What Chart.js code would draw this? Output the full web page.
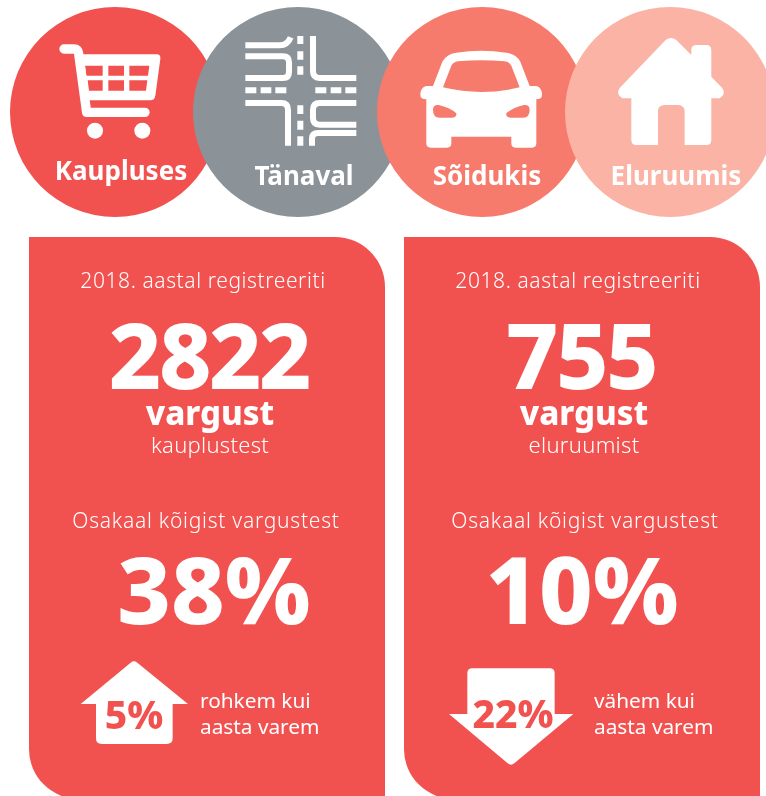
<!DOCTYPE html>
<html>
<head>
<meta charset="utf-8">
<script src="https://cdn.jsdelivr.net/npm/chart.js@4"></script>
<style>
  html, body { margin: 0; padding: 0; background: #fff; }
  #page { position: relative; width: 766px; height: 796px; overflow: hidden; font-family: "Noto Sans", sans-serif; color: #fff; }
  #page canvas { position: absolute; }
  .panel { position: absolute; top: 237px; width: 356px; height: 562px; background: #f2524f; border-radius: 0 50px 0 50px; }
  #icons { position: absolute; left: 0; top: 0; }
  .t { position: absolute; white-space: nowrap; line-height: 1; transform: translate(-50%, -50%); }
  .l { position: absolute; white-space: nowrap; line-height: 1; transform: translateY(-50%); }
</style>
</head>
<body>
<div id="page">
  <div class="panel" style="left:29px"></div>
  <div class="panel" style="left:404px"></div>
</div>
<script>
const categories = ["Kaupluses", "Tänaval", "Sõidukis", "Eluruumis"];
const circleValues = [1, 1, 1, 1];
const circleColors = ["#f2524f", "#8c9398", "#f77b6c", "#fab3a4"];

const panelTitle = "2018. aastal registreeriti";
const shareTitle = "Osakaal kõigist vargustest";
const theftWord = "vargust";
const theftCounts = [2822, 755];
const theftPlaces = ["kauplustest", "eluruumist"];
const sharePercents = [38, 10];
const changePercents = [5, 22];
const changeWords = ["rohkem kui", "vähem kui"];
const changeTail = "aasta varem";

const page = document.getElementById("page");

// the four round headers are one-slice doughnuts, later ones sit on top
const circleLeft = [10, 193, 377, 565];
categories.forEach(function (name, i) {
  const canvas = document.createElement("canvas");
  canvas.width = 210;
  canvas.height = 210;
  canvas.style.left = circleLeft[i] + "px";
  canvas.style.top = "7px";
  page.appendChild(canvas);
  new Chart(canvas.getContext("2d"), {
    type: "doughnut",
    data: {
      labels: [name],
      datasets: [{ data: [circleValues[i]], backgroundColor: circleColors[i], borderWidth: 0 }]
    },
    options: {
      responsive: false,
      animation: false,
      cutout: 0,
      plugins: { legend: { display: false }, tooltip: { enabled: false } }
    }
  });
});

// icons, each traced in 3x coordinates
const red = circleColors[0];
const svgNs = "http://www.w3.org/2000/svg";
const icons = document.createElementNS(svgNs, "svg");
icons.setAttribute("id", "icons");
icons.setAttribute("width", "766");
icons.setAttribute("height", "796");
icons.innerHTML = `
  <g transform="translate(50,35) scale(.3333)">
    <path d="M42 42H72Q84 42 86 56L110 232H285" fill="none" stroke="#fff" stroke-width="28" stroke-linecap="round" stroke-linejoin="round"/>
    <path fill-rule="evenodd" fill="#fff" d="M80 58H320Q333 58 331 72L316 182Q314 196 300 196H100Z
      M105 92H158V122H109Z M175 92H222V122H175Z M238 92H298L294 122H238Z
      M113 136H158V167H117Z M175 136H222V167H175Z M238 136H292L288 167H238Z"/>
    <circle cx="135" cy="287" r="24" fill="#fff"/><circle cx="277" cy="287" r="24" fill="#fff"/>
  </g>
  <g transform="translate(238,28) scale(.3333)" fill="none" stroke="#fff" stroke-width="18">
    <path d="M22 52H125Q148 52 158 28"/>
    <path d="M22 85H135Q153 85 153 103V132Q153 150 135 150H22"/>
    <path d="M225 24V130Q225 150 245 150H355"/>
    <path d="M22 225H130Q150 225 150 245V353"/>
    <path d="M355 225H245Q225 225 225 245V270Q225 290 245 290H355"/>
    <path d="M355 315H240Q222 315 222 332V353"/>
    <path d="M187 24V48M187 70V95M187 115V140M187 232V258M187 278V305M187 325V353"/>
    <path d="M22 187H55M68 187H100M112 187H145M232 187H265M278 187H310M322 187H355"/>
  </g>
  <g transform="translate(383,0) scale(.3333)">
    <path fill-rule="evenodd" fill="#fff" d="M150 258L178 185Q190 162 220 158Q295 146 370 158Q400 162 412 185L440 258H460Q477 262 477 285Q477 298 460 298V430Q460 443 447 443H398Q385 443 385 430V410H205V430Q205 443 192 443H143Q130 443 130 430V298Q112 298 112 285Q112 262 130 258Z
      M180 262L205 197Q211 186 225 184Q295 177 365 184Q379 186 385 197L410 262Q295 290 180 262Z
      M150 330Q150 313 167 315Q200 322 220 340Q222 353 205 353H170Q150 353 150 330Z
      M440 330Q440 313 423 315Q390 322 370 340Q368 353 385 353H420Q440 353 440 330Z"/>
    <path fill="#fff" d="M848 120Q864 108 880 120L925 165V150Q925 135 940 135H970Q985 135 985 150V230L1018 264Q1030 282 1010 295H985V420Q985 435 970 435H905V335Q905 315 885 315H845Q825 315 825 335V435H760Q745 435 745 420V295H718Q698 282 710 264Z"/>
  </g>
  <g transform="translate(60,640) scale(.3333)">
    <path fill="#fff" d="M62 192L212 68Q222 60 232 68L384 192H338V295Q338 312 320 312H125Q108 312 108 295V192Z"/>
  </g>
  <g transform="translate(430,640) scale(.3333)">
    <path fill="#fff" d="M112 100Q112 85 127 85H359Q374 85 374 100V222H430L253 370Q243 378 233 370L57 222H112Z"/>
  </g>`;
page.appendChild(icons);

function centered(text, x, y, size, weight, spacing, color) {
  const d = document.createElement("div");
  d.className = "t";
  d.textContent = text;
  d.style.cssText = "left:" + x + "px;top:" + y + "px;font-size:" + size + "px;font-weight:" + weight +
    ";letter-spacing:" + (spacing || 0) + "px" + (color ? ";color:" + color : "");
  page.appendChild(d);
}
function lefted(text, x, y, size, weight) {
  const d = document.createElement("div");
  d.className = "l";
  d.textContent = text;
  d.style.cssText = "left:" + x + "px;top:" + y + "px;font-size:" + size + "px;font-weight:" + weight;
  page.appendChild(d);
}

const labelX = [121, 304, 487, 676];
const labelY = [170, 175, 175, 175];
categories.forEach(function (name, i) {
  centered(name, labelX[i], labelY[i], 26, 700);
});

const titleX = [203, 578];
const countX = [209, 581];
const wordCenterX = [210, 584];
const shareTitleX = [206, 585];
const shareX = [214, 582];
const changeX = [134, 513];
const changeY = [713, 712];
const wordX = [200, 594];

theftCounts.forEach(function (count, i) {
  centered(panelTitle, titleX[i], 280, 21, 300, 0.6);
  centered(String(count), countX[i], 354, 91, 800, -2.5);
  centered(theftWord, wordCenterX[i], 412, 33, 800);
  centered(theftPlaces[i], wordCenterX[i], 444, 22, 300, 0.3);
  centered(shareTitle, shareTitleX[i], 520, 21, 300, 0.75);
  centered(sharePercents[i] + "%", shareX[i], 588, 93, 800);
  centered(changePercents[i] + "%", changeX[i], changeY[i], 39, 800, 0, red);
  lefted(changeWords[i], wordX[i], 700, 20.8, 400);
  lefted(changeTail, wordX[i], 726, 20.8, 400);
});
</script>
</body>
</html>
